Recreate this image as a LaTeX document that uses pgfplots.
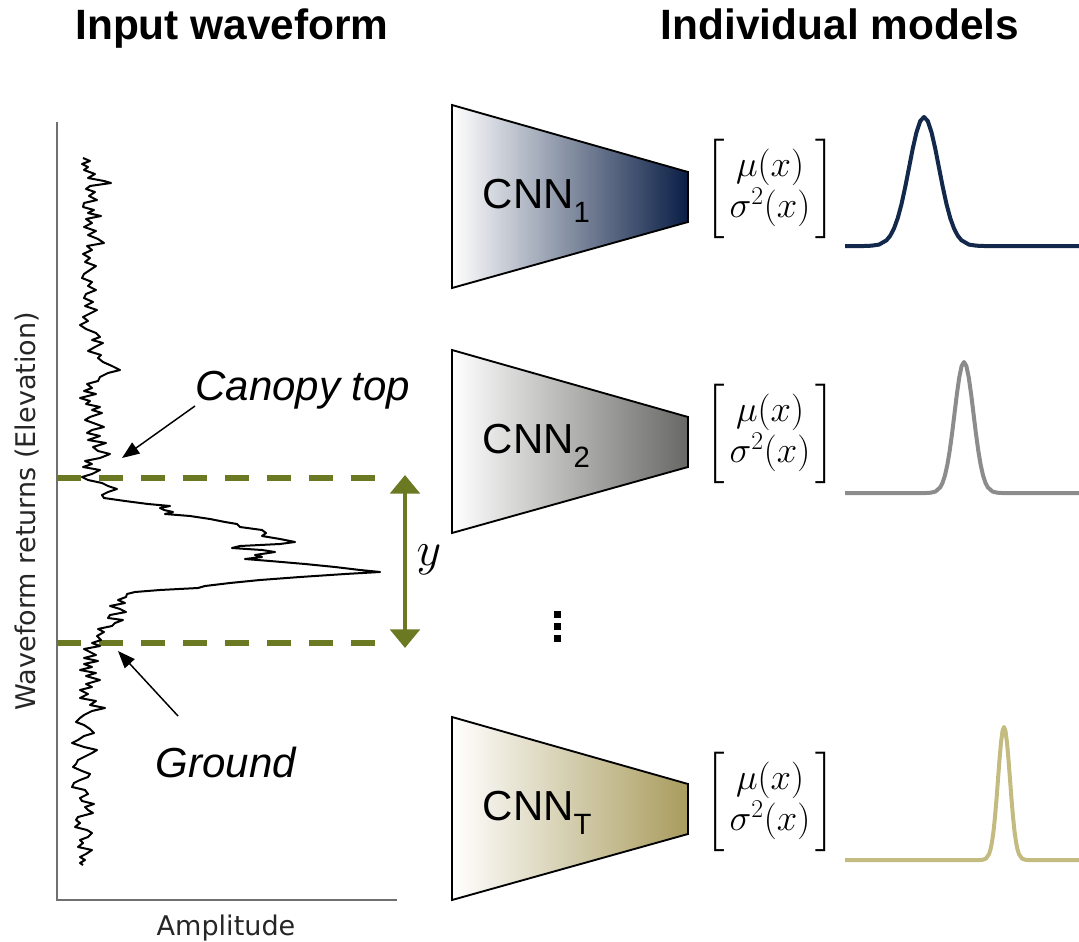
\RequirePackage{fix-cm}
\documentclass[border=0pt]{standalone}
\usepackage{amsmath}
\usepackage[no-math]{fontspec}
\setmainfont{Liberation Sans}
\newfontfamily\labelfont{DejaVu Sans}
\usepackage{pgfplots}
\pgfplotsset{compat=1.18}
\usetikzlibrary{arrows.meta}

\definecolor{bandgreen}{HTML}{6B7A22}
\definecolor{cnnnavy}{HTML}{0A1E45}
\definecolor{curvenavy}{HTML}{13294B}
\definecolor{cnngray}{HTML}{686866}
\definecolor{curvegray}{HTML}{8C8C8C}
\definecolor{cnnkhaki}{HTML}{A99C5E}
\definecolor{curvekhaki}{HTML}{C4BB80}
\definecolor{axisgray}{HTML}{707070}

% lidar return: amplitude (x) against elevation bin (y, growing downwards)
\pgfplotstableread{
x y
83 158
90 161
82 164
88 167
84 170
95 174
88 178
104 181
111 183
90 186
86 189
95 192
89 196
97 200
84 203
83 207
94 210
88 213
101 216
86 219
92 223
84 227
96 231
88 235
98 239
104 243
87 246
92 250
83 254
90 258
85 262
96 266
90 270
84 274
82 278
92 282
88 286
96 290
86 294
84 298
93 302
85 306
97 310
91 313
83 317
88 321
80 325
86 329
96 333
100 337
92 340
103 343
95 347
88 351
101 355
98 358
103 362
112 366
120 370
108 373
100 377
98 381
87 384
92 388
84 391
96 394
80 398
90 401
86 404
100 407
92 410
102 413
90 417
85 420
96 424
104 427
92 430
87 433
100 436
88 440
106 443
93 447
98 451
110 454
100 458
85 461
92 464
83 467
100 470
92 474
82 477
88 480
102 483
108 486
117 489
108 492
102 495
104 498
125 501
148 504
170 506
160 508
164 510
173 512
165 514
190 516
210 519
225 522
237 524
240 527
262 530
266 533
262 536
280 539
295 542
280 544
240 546
232 548
262 550
275 552
255 555
262 557
245 559
270 561
305 564
335 567
360 570
380 572
345 574
300 577
260 580
230 583
205 586
198 588
160 590
135 592
127 594
126 597
118 600
125 603
110 606
120 609
126 612
110 615
108 618
123 620
115 623
112 626
98 629
104 632
97 636
101 640
92 643
100 646
84 649
90 652
96 655
84 658
98 661
84 664
92 667
80 670
96 673
86 676
100 680
86 684
92 687
80 690
88 694
80 698
96 701
90 705
105 708
92 711
84 715
80 718
76 722
84 725
90 729
94 733
84 736
78 740
72 743
84 747
97 750
92 753
84 757
78 760
76 764
73 767
82 771
90 774
88 777
80 780
74 783
72 787
85 790
88 794
80 798
82 801
94 804
85 807
88 810
93 813
78 817
76 820
80 823
75 827
87 830
92 833
88 837
80 840
83 843
78 847
92 850
86 854
80 857
85 860
80 863
83 865
}\waveform

% predictive densities of the three ensemble members
\pgfplotstableread{
x y
845 246
864 246
871.5 245.7
879 244.6
886.5 240.3
890.25 235.7
894 228.5
897.75 218.1
901.5 204.1
905.25 186.9
909 167.8
912.75 148.6
916.5 132.2
920.25 121.0
924 117
927.75 121.0
931.5 132.2
935.25 148.6
939 167.8
942.75 186.9
946.5 204.1
950.25 218.1
954 228.5
957.75 235.7
961.5 240.3
969 244.6
976.5 245.7
984 246
1079 246
}\densityA

\pgfplotstableread{
x y
845 493
926 493
930.75 492.7
935.5 491.55
940.25 487.25
942.625 482.57
945 475.28
947.375 464.66
949.75 450.46
952.125 433.03
954.5 413.55
956.875 394.12
959.25 377.39
961.625 366.03
964 362
966.375 366.03
968.75 377.39
971.125 394.12
973.5 413.55
975.875 433.03
978.25 450.46
980.625 464.66
983 475.28
985.375 482.57
987.75 487.25
992.5 491.55
997.25 492.7
1002 493
1079 493
}\densityB

\pgfplotstableread{
x y
845 860
980 860
983 859.71
986 858.52
989 854.16
990.5 849.41
992 842.0
993.5 831.23
995 816.81
996.5 799.11
998 779.34
999.5 759.61
1001 742.63
1002.5 731.1
1004 727
1005.5 731.1
1007 742.63
1008.5 759.61
1010 779.34
1011.5 799.11
1013 816.81
1014.5 831.23
1016 842.0
1017.5 849.41
1019 854.16
1022 858.52
1025 859.71
1028 860
1079 860
}\densityT

\begin{document}
\begin{tikzpicture}
\begin{axis}[
  name=canvas,
  at={(0,0)}, anchor=south west,
  scale only axis,
  width=809.25pt, height=706.5pt,
  xmin=0, xmax=1079, ymin=0, ymax=942,
  y dir=reverse,
  hide axis,
  clip=false,
]
% titles
\node[anchor=base, font=\fontsize{31.8}{36}\selectfont\bfseries] at (232,40) {Input waveform};
\node[anchor=base, font=\fontsize{31.8}{36}\selectfont\bfseries] at (840,40) {Individual models};

% waveform axes
\draw[axisgray, line width=1.6pt] (57,122) -- (57,900) -- (397,900);
\node[anchor=base, font=\labelfont\fontsize{20.3}{24}\selectfont, text=black!85] at (226,935) {Amplitude};
\node[anchor=base, rotate=90, font=\labelfont\fontsize{20.3}{24}\selectfont, text=black!85] at (36,511) {Waveform returns (Elevation)};

% canopy top and ground levels
\draw[bandgreen, line width=4pt, dash pattern=on 18pt off 13.5pt] (57,478) -- (378,478);
\draw[bandgreen, line width=4pt, dash pattern=on 18pt off 13.5pt] (57,643) -- (378,643);

\addplot[black, line width=1.5pt, line join=round, no markers] table[x=x, y=y] {\waveform};

% canopy height span
\draw[bandgreen, line width=3.5pt, {Triangle[width=22pt, length=14pt]}-{Triangle[width=22pt, length=14pt]}] (405,475) -- (405,648);
\node[font=\fontsize{36}{40}\selectfont] at (429,560) {$y$};

% annotations
\node[anchor=base, font=\fontsize{31.5}{36}\selectfont\itshape] at (303,400) {Canopy top};
\draw[black, line width=1.1pt, -{Triangle[width=10pt, length=13pt]}] (195,406) -- (122,458);
\node[anchor=base, font=\fontsize{31.5}{36}\selectfont\itshape] at (226,777) {Ground};
\draw[black, line width=1.1pt, -{Triangle[width=10pt, length=13pt]}] (178,716) -- (118,651);

% ensemble members
\shade[left color=white, right color=cnnnavy] (452,105) -- (688,172) -- (688,222) -- (452,288) -- cycle;
\draw[black, line width=1.4pt, line join=miter] (452,105) -- (688,172) -- (688,222) -- (452,288) -- cycle;
\node[anchor=base west, font=\fontsize{31.5}{36}\selectfont] at (478,208) {CNN\lower10.5pt\hbox{\fontsize{22}{24}\selectfont 1}};

\shade[left color=white, right color=cnngray] (452,350) -- (688,417) -- (688,467) -- (452,533) -- cycle;
\draw[black, line width=1.4pt, line join=miter] (452,350) -- (688,417) -- (688,467) -- (452,533) -- cycle;
\node[anchor=base west, font=\fontsize{31.5}{36}\selectfont] at (478,453) {CNN\lower10.5pt\hbox{\fontsize{22}{24}\selectfont 2}};

\shade[left color=white, right color=cnnkhaki] (452,717) -- (688,784) -- (688,834) -- (452,900) -- cycle;
\draw[black, line width=1.4pt, line join=miter] (452,717) -- (688,784) -- (688,834) -- (452,900) -- cycle;
\node[anchor=base west, font=\fontsize{31.5}{36}\selectfont] at (478,820) {CNN\lower10.5pt\hbox{\fontsize{22}{24}\selectfont T}};

% vertical ellipsis
\fill[black] (553.5,610.5) rectangle (560.5,617.5);
\fill[black] (553.5,622.5) rectangle (560.5,629.5);
\fill[black] (553.5,634.5) rectangle (560.5,641.5);

% predicted mean and variance
\node[font=\fontsize{27.5}{29.25}\selectfont] at (770,189) {$\begin{bmatrix}\mkern2.5mu\vrule height 26pt depth 0pt width 0pt\mu(x)\mkern2.5mu\\ \mkern2.5mu\sigma^2(x)\vrule height 0pt depth 14pt width 0pt\mkern2.5mu\end{bmatrix}$};
\node[font=\fontsize{27.5}{29.25}\selectfont] at (770,434) {$\begin{bmatrix}\mkern2.5mu\vrule height 26pt depth 0pt width 0pt\mu(x)\mkern2.5mu\\ \mkern2.5mu\sigma^2(x)\vrule height 0pt depth 14pt width 0pt\mkern2.5mu\end{bmatrix}$};
\node[font=\fontsize{27.5}{29.25}\selectfont] at (770,802) {$\begin{bmatrix}\mkern2.5mu\vrule height 26pt depth 0pt width 0pt\mu(x)\mkern2.5mu\\ \mkern2.5mu\sigma^2(x)\vrule height 0pt depth 14pt width 0pt\mkern2.5mu\end{bmatrix}$};

\addplot[curvenavy, line width=3pt, line join=round, no markers] table[x=x, y=y] {\densityA};
\addplot[curvegray, line width=3pt, line join=round, no markers] table[x=x, y=y] {\densityB};
\addplot[curvekhaki, line width=3pt, line join=round, no markers] table[x=x, y=y] {\densityT};
\end{axis}
\pgfresetboundingbox
\path (canvas.south west) rectangle (canvas.north east);
\end{tikzpicture}
\end{document}
